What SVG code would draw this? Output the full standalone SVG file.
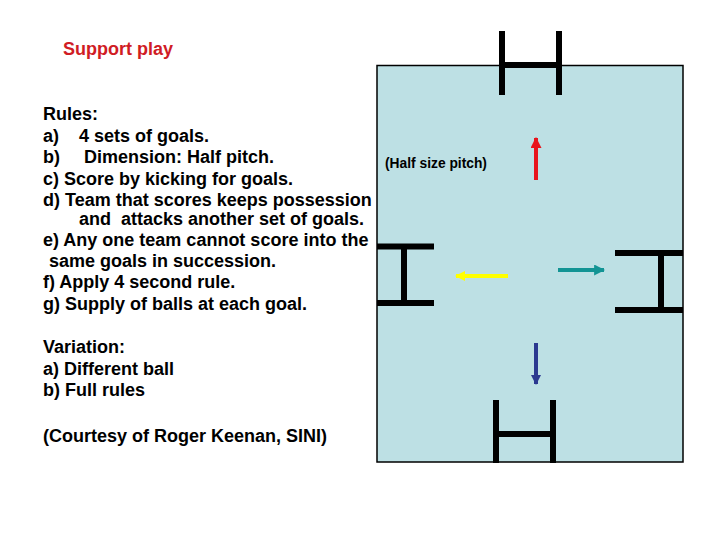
<svg xmlns="http://www.w3.org/2000/svg" width="720" height="540" viewBox="0 0 720 540">
<style>
.t{font-family:"Liberation Sans",Arial,sans-serif;font-weight:bold;font-size:18px;fill:#000}
.title{fill:#d01c24}
.small{font-size:13.8px}
.goal{stroke:#000;stroke-width:6;fill:none;stroke-linecap:butt}
.arr{stroke-width:4;fill:none}
</style>
<defs>
<marker id="hr" markerUnits="userSpaceOnUse" viewBox="0 0 10 10" refX="9" refY="5" markerWidth="11" markerHeight="11" orient="auto"><path d="M0,0 L10,5 L0,10 z" fill="#e8141c"/></marker>
<marker id="hb" markerUnits="userSpaceOnUse" viewBox="0 0 10 10" refX="9" refY="5" markerWidth="10" markerHeight="10" orient="auto"><path d="M0,0 L10,5 L0,10 z" fill="#2b3990"/></marker>
<marker id="hy" markerUnits="userSpaceOnUse" viewBox="0 0 10 10" refX="9" refY="5" markerWidth="10" markerHeight="10" orient="auto"><path d="M0,0 L10,5 L0,10 z" fill="#ffff00"/></marker>
<marker id="ht" markerUnits="userSpaceOnUse" viewBox="0 0 10 10" refX="9" refY="5" markerWidth="11" markerHeight="11" orient="auto"><path d="M0,0 L10,5 L0,10 z" fill="#139494"/></marker>
</defs>
<rect width="720" height="540" fill="#fff"/>
<g id="pitch">
<rect x="377" y="65.5" width="306" height="396.5" fill="#bde0e4" stroke="#000" stroke-width="1.5"/>
<text class="t small" x="385" y="168">(Half size pitch)</text>
</g>
<g id="goal-top"><path class="goal" d="M502,31 V95 M559,31 V95 M502,65 H559"/></g>
<g id="goal-left"><path class="goal" d="M377,246.5 H434 M377,303 H434 M404,246.5 V303"/></g>
<g id="goal-right"><path class="goal" d="M615,253 H683 M615,310 H683 M661,253 V310"/></g>
<g id="goal-bottom"><path class="goal" d="M496,400 V463 M553,400 V463 M496,434 H553"/></g>
<g id="connectors">
<line class="arr" x1="536" y1="180" x2="536" y2="138" stroke="#e8141c" marker-end="url(#hr)"/>
<line class="arr" x1="536" y1="343" x2="536" y2="384" stroke="#2b3990" marker-end="url(#hb)"/>
<line class="arr" x1="508" y1="276" x2="456" y2="276" stroke="#ffff00" marker-end="url(#hy)"/>
<line class="arr" x1="558" y1="270" x2="604" y2="270" stroke="#139494" marker-end="url(#ht)"/>
</g>
<g id="text">
<text class="t title" x="63" y="55">Support play</text>
<text class="t" x="43" y="120">Rules:</text>
<text class="t" x="43" y="141.5">a)</text><text class="t" x="79" y="141.5">4 sets of goals.</text>
<text class="t" x="43" y="163">b)</text><text class="t" x="84" y="163">Dimension: Half pitch.</text>
<text class="t" x="43" y="185">c) Score by kicking for goals.</text>
<text class="t" x="43" y="206">d) Team that scores keeps possession</text>
<text class="t" x="79" y="224.5" xml:space="preserve">and  attacks another set of goals.</text>
<text class="t" x="43" y="245.5">e) Any one team cannot score into the</text>
<text class="t" x="49" y="267">same goals in succession.</text>
<text class="t" x="43" y="288">f) Apply 4 second rule.</text>
<text class="t" x="43" y="309.5">g) Supply of balls at each goal.</text>
<text class="t" x="43" y="353">Variation:</text>
<text class="t" x="43" y="375">a) Different ball</text>
<text class="t" x="43" y="396">b) Full rules</text>
<text class="t" x="43" y="441.5">(Courtesy of Roger Keenan, SINI)</text>
</g>
</svg>
